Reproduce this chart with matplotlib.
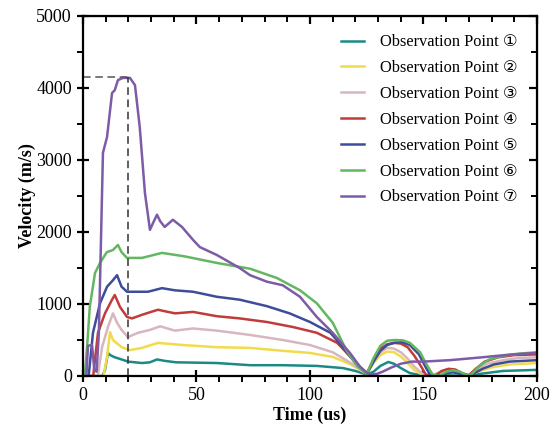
import matplotlib
matplotlib.use("Agg")
import matplotlib.pyplot as plt
from matplotlib.ticker import MultipleLocator

plt.rcParams['font.family'] = ['Liberation Serif', 'DejaVu Sans']

# observation point 1
t1 = [0, 8.5, 9.7, 11, 12, 14, 17, 19.8, 26, 29.5, 32.6, 36, 41, 50, 59, 73.6, 88, 103, 114.5, 120,
      125, 128, 131, 134.5, 137, 140, 144, 150, 160, 170, 175, 185, 200]
v1 = [0, 0, 80, 320, 290, 260, 230, 200, 180, 190, 230, 210, 190, 185, 180, 150, 150, 140, 110, 70,
      20, 60, 140, 195, 170, 110, 40, 5, 10, 0, 30, 70, 85]

# observation point 2
t2 = [0, 9, 10.6, 11.9, 13.2, 17, 20.7, 26, 33, 44, 59, 73.6, 88, 100, 110, 118, 125, 128, 131, 134,
      137, 140, 143, 146, 150, 153, 158, 161, 164, 167, 170, 174, 180, 188, 200]
v2 = [0, 0, 260, 610, 500, 400, 360, 390, 460, 430, 400, 390, 350, 320, 265, 160, 30, 180, 290, 340,
      330, 270, 180, 80, 10, 0, 60, 80, 70, 20, 10, 60, 120, 160, 180]

# observation point 3
t3 = [0, 6.5, 8.4, 11, 13.2, 15, 17, 19.8, 24.2, 29.5, 34, 40.5, 48.5, 59, 73.6, 88, 100, 110, 118,
      125, 128, 131, 134, 137, 140, 143, 146, 150, 153, 158, 161, 164, 167, 170, 173, 178, 185, 192, 200]
v3 = [0, 0, 400, 680, 870, 740, 640, 540, 600, 640, 690, 630, 660, 630, 570, 500, 430, 330, 180,
      30, 200, 330, 390, 380, 330, 240, 130, 20, 0, 60, 90, 80, 30, 10, 80, 170, 220, 250, 260]

# observation point 4
t4 = [0, 4.5, 6.6, 9.7, 12.8, 14, 16.3, 19.4, 21.6, 26, 33, 40.5, 48.5, 59, 69, 81, 92.5, 103, 112, 118,
      125, 128, 131, 134, 137, 140, 143, 146, 149, 151, 155, 158, 161, 164, 167, 170, 173, 177, 183, 190, 200]
v4 = [0, 0, 600, 870, 1060, 1125, 960, 820, 800, 850, 920, 870, 890, 830, 800, 750, 680, 600, 460, 260,
      30, 230, 380, 440, 460, 450, 400, 280, 130, 20, 0, 70, 100, 90, 40, 10, 100, 200, 260, 290, 300]

# observation point 5
t5 = [0, 2.5, 4.4, 7.5, 10.6, 13.2, 15, 17, 19.4, 28.6, 34.8, 40.5, 48.5, 59, 69, 81, 91, 100, 109, 114.5,
      120, 125, 128, 131, 134, 137, 140.5, 144, 148, 151, 153, 157, 160, 163, 166, 169, 172, 176, 181, 188, 200]
v5 = [0, 0, 600, 1010, 1240, 1330, 1400, 1240, 1170, 1170, 1220, 1190, 1170, 1100, 1060, 970, 870, 750, 600, 400,
      180, 30, 200, 350, 430, 460, 470, 430, 300, 120, 10, 0, 40, 50, 30, 0, 30, 100, 160, 200, 220]

# observation point 6
t6 = [0, 0.8, 1.8, 3, 5.3, 7.5, 10.5, 13.2, 15.4, 17, 19.4, 26, 34.8, 45, 59, 73.6, 85.5, 95.6, 103, 110,
      116, 121, 125, 128, 131, 134, 137.4, 141, 144, 148.5, 151, 154, 157, 160, 163, 166, 169, 171, 175, 179,
      185, 192, 200]
v6 = [0, 0, 400, 960, 1430, 1570, 1720, 1750, 1820, 1720, 1640, 1640, 1710, 1660, 1570, 1490, 1360, 1190, 1010, 740,
      360, 130, 30, 250, 420, 490, 500, 495, 460, 330, 180, 20, 0, 60, 80, 60, 10, 20, 150, 230,
      280, 310, 330]

# observation point 7
t7 = [0, 1.5, 2.2, 4, 5, 6, 7, 8.8, 10.6, 12.8, 14, 15.4, 17.6, 20.7, 22.9, 25, 27.3, 29.5, 30.8, 32.6,
      34, 36, 39.6, 43.6, 48.5, 51.5, 59, 69, 73.6, 81, 88, 95.6, 103, 110, 117.6, 122, 126, 129.5, 132,
      136, 140, 145, 150, 161.7, 176, 189, 200]
v7 = [0, 0, 420, 430, 80, 60, 600, 3100, 3320, 3930, 3970, 4110, 4140, 4140, 4040, 3460, 2540, 2030, 2120, 2240,
      2150, 2070, 2170, 2070, 1890, 1790, 1680, 1500, 1400, 1310, 1260, 1100, 820, 600, 320, 130, 20, 30, 60,
      120, 170, 200, 200, 220, 260, 300, 320]

labels = ['Observation Point \u2460', 'Observation Point \u2461', 'Observation Point \u2462',
          'Observation Point \u2463', 'Observation Point \u2464', 'Observation Point \u2465',
          'Observation Point \u2466']
colors = ['#1b8a87', '#f0dc4a', '#d8b6be', '#c23b3b', '#3d4d99', '#63b760', '#7d5ba6']

peak_t = 20
peak_v = 4150

fig = plt.figure(figsize=(5.51, 4.30), dpi=100)
ax = fig.add_axes([0.1506, 0.1256, 0.824, 0.8372])

series = [(t1, v1), (t2, v2), (t3, v3), (t4, v4), (t5, v5), (t6, v6), (t7, v7)]
for (t, v), c, lab in zip(series, colors, labels):
    ax.plot(t, v, color=c, lw=1.8, label=lab)

# dashed guide to the peak
ax.plot([0, peak_t], [peak_v, peak_v], ls='--', color='#555555', lw=1.1, dashes=(5, 3))
ax.plot([peak_t, peak_t], [0, peak_v], ls='--', color='#333333', lw=1.1, dashes=(5, 3))

ax.set_xlim(0, 200)
ax.set_ylim(0, 5000)
ax.xaxis.set_major_locator(MultipleLocator(50))
ax.xaxis.set_minor_locator(MultipleLocator(10))
ax.yaxis.set_major_locator(MultipleLocator(1000))
ax.yaxis.set_minor_locator(MultipleLocator(500))
ax.tick_params(which='major', direction='inout', length=9, width=1.6, labelsize=13)
ax.tick_params(which='minor', direction='out', length=4, width=1.4)

for s in ax.spines.values():
    s.set_linewidth(1.6)

top = ax.secondary_xaxis('top')
top.xaxis.set_major_locator(MultipleLocator(50))
top.xaxis.set_minor_locator(MultipleLocator(10))
top.tick_params(which='major', direction='in', length=6, width=1.6, labeltop=False)
top.tick_params(which='minor', direction='in', length=4, width=1.4)
right = ax.secondary_yaxis('right')
right.yaxis.set_major_locator(MultipleLocator(1000))
right.yaxis.set_minor_locator(MultipleLocator(500))
right.tick_params(which='major', direction='in', length=6, width=1.6, labelright=False)
right.tick_params(which='minor', direction='in', length=4, width=1.4)

ax.set_xlabel('Time (us)', fontsize=13, fontweight='bold', labelpad=2)
ax.set_ylabel('Velocity (m/s)', fontsize=13, fontweight='bold', labelpad=0)

ax.legend(loc='upper right', bbox_to_anchor=(0.99, 0.99), frameon=False, fontsize=11.8,
          handlelength=1.4, labelspacing=0.6, handletextpad=1.0)

fig.savefig('out.png', dpi=100)
